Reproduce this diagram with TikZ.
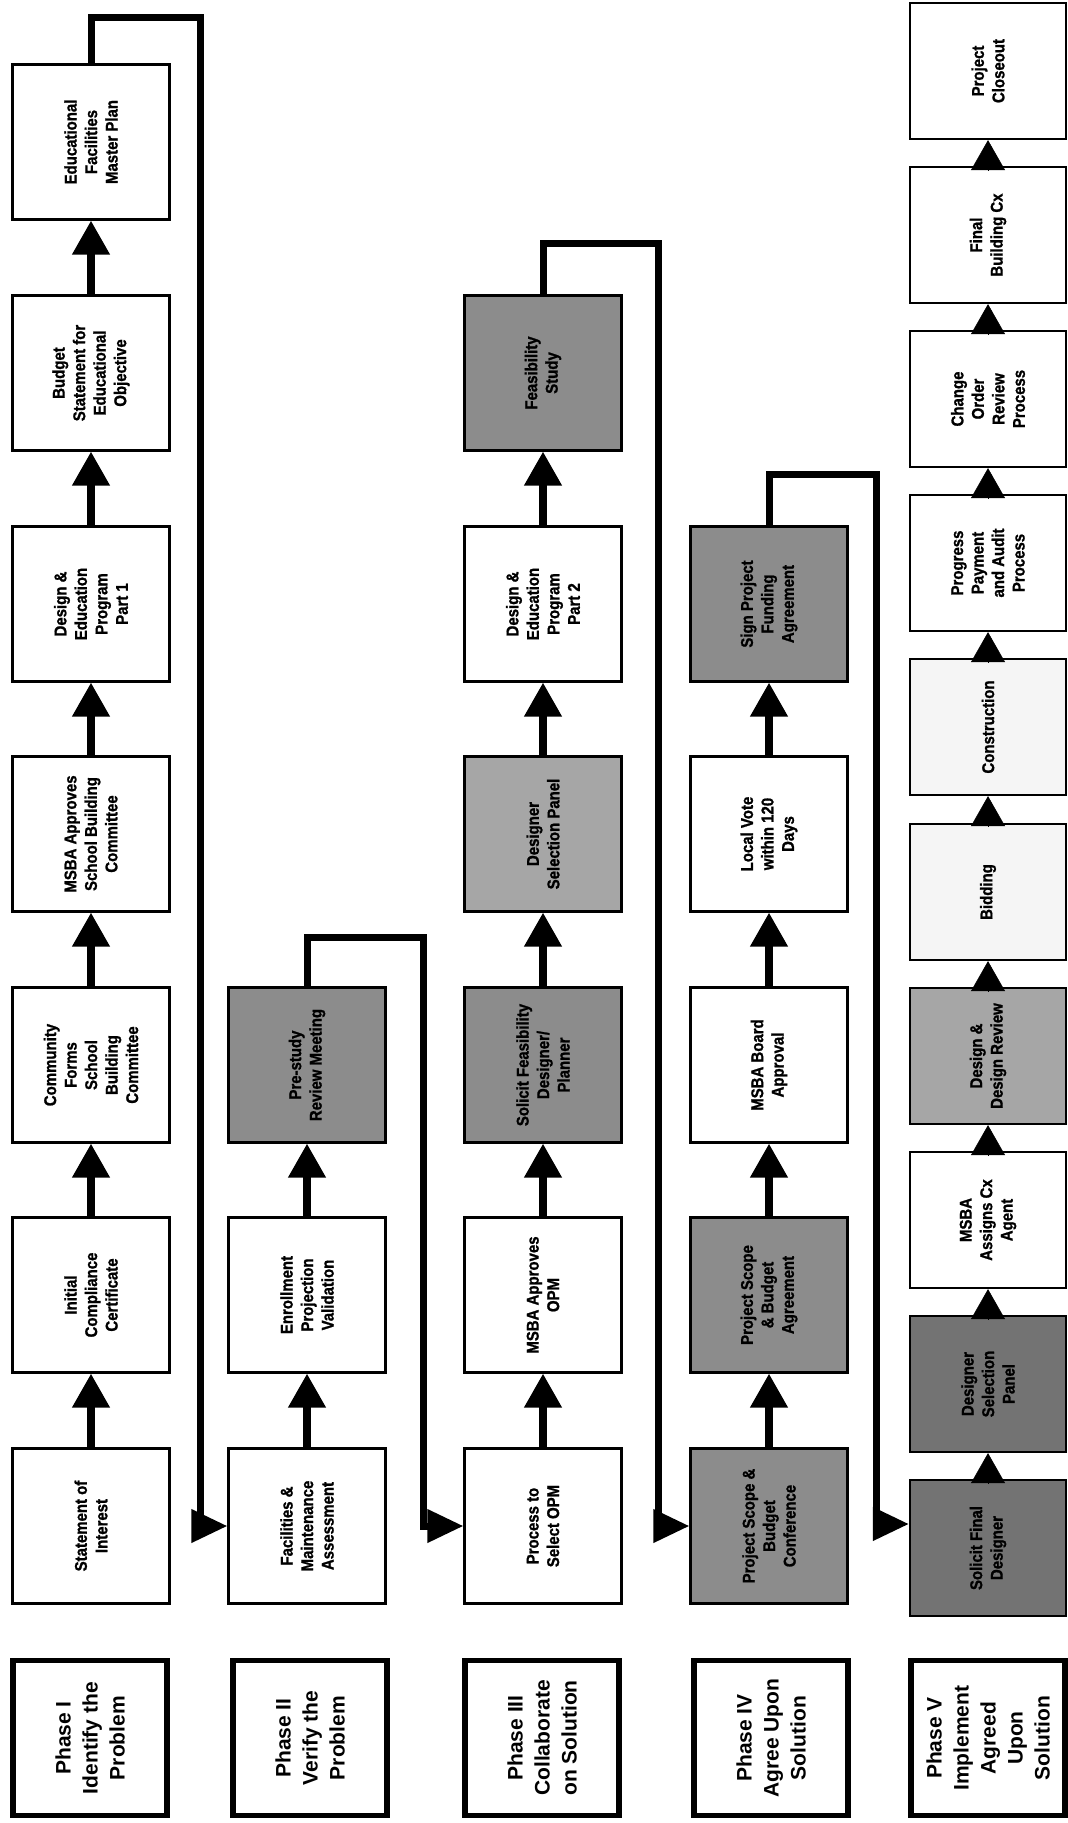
\documentclass[tikz,border=0pt]{standalone}
\usepackage{fontspec}
\setmainfont{Liberation Sans}
\newfontfamily\boxfont[FakeStretch=0.88,FakeBold=1.2]{Liberation Sans Bold}
\usetikzlibrary{arrows.meta}

\begin{document}
\begin{tikzpicture}[x=1pt,y=-1pt,
    box/.style={draw,line width=2.2pt,rotate=90,minimum width=155pt,minimum height=157pt,inner sep=0pt,align=center,fill=white,font=\boxfont\fontsize{17}{20.5}\selectfont},
    vbox/.style={box,minimum width=136pt,minimum height=156pt},
    dark/.style={fill=black!45},
    darker/.style={fill=black!55},
    mid/.style={fill=black!35},
    faint/.style={fill=black!4},
    phase/.style={draw,line width=5.5pt,rotate=90,minimum width=155pt,minimum height=154pt,inner sep=0pt,align=center,font=\bfseries\fontsize{21}{27}\selectfont},
    up/.style={line width=7.5pt,-{Triangle[length=34pt,width=36pt]}},
    tip/.style={line width=0.5pt,-{Triangle[length=30pt,width=34pt]}},
    link/.style={line width=7pt,-{Triangle[length=36pt,width=32pt]}}]
\useasboundingbox (0,0) rectangle (1068,1823);

% boxes are turned a quarter: east is up, north is left
% Phase I
\node[box] (soi) at (91,1526) {Statement of\\Interest};
\node[box] (icc) at (91,1295) {Initial\\Compliance\\Certificate};
\node[box] (cfsbc) at (91,1065) {Community\\Forms\\School\\Building\\Committee};
\node[box] (masbc) at (91,834) {MSBA Approves\\School Building\\Committee};
\node[box] (dep1) at (91,604) {Design \&\\Education\\Program\\Part 1};
\node[box] (bseo) at (91,373) {Budget\\Statement for\\Educational\\Objective};
\node[box] (efmp) at (91,142) {Educational\\Facilities\\Master Plan};

% Phase II
\node[box] (fma) at (307,1526) {Facilities \&\\Maintenance\\Assessment};
\node[box] (epv) at (307,1295) {Enrollment\\Projection\\Validation};
\node[box,dark] (psrm) at (307,1065) {Pre-study\\Review Meeting};

% Phase III
\node[box] (pso) at (543,1526) {Process to\\Select OPM};
\node[box] (mao) at (543,1295) {MSBA Approves\\OPM};
\node[box,dark] (sfdp) at (543,1065) {Solicit Feasibility\\Designer/\\Planner};
\node[box,mid] (dsp) at (543,834) {Designer\\Selection Panel};
\node[box] (dep2) at (543,604) {Design \&\\Education\\Program\\Part 2};
\node[box,dark] (fs) at (543,373) {Feasibility\\Study};

% Phase IV
\node[box,dark] (psbc) at (769,1526) {Project Scope \&\\Budget\\Conference};
\node[box,dark] (psba) at (769,1295) {Project Scope\\\& Budget\\Agreement};
\node[box] (mba) at (769,1065) {MSBA Board\\Approval};
\node[box] (lv) at (769,834) {Local Vote\\within 120\\Days};
\node[box,dark] (spfa) at (769,604) {Sign Project\\Funding\\Agreement};

% Phase V
\node[vbox,darker] (sfd) at (988,1548) {Solicit Final\\Designer};
\node[vbox,darker] (dsp5) at (988,1384) {Designer\\Selection\\Panel};
\node[vbox] (macx) at (988,1220) {MSBA\\Assigns Cx\\Agent};
\node[vbox,mid] (ddr) at (988,1056) {Design \&\\Design Review};
\node[vbox,faint] (bid) at (988,892) {Bidding};
\node[vbox,faint] (con) at (988,727) {Construction};
\node[vbox] (ppap) at (988,563) {Progress\\Payment\\and Audit\\Process};
\node[vbox] (corp) at (988,399) {Change\\Order\\Review\\Process};
\node[vbox] (fbcx) at (988,235) {Final\\Building Cx};
\node[vbox] (pc) at (988,71) {Project\\Closeout};

% phase titles
\node[phase] (ph1) at (90,1738) {Phase I\\Identify the\\Problem};
\node[phase] (ph2) at (310,1738) {Phase II\\Verify the\\Problem};
\node[phase] (ph3) at (542,1738) {Phase III\\Collaborate\\on Solution};
\node[phase] (ph4) at (771,1738) {Phase IV\\Agree Upon\\Solution};
\node[phase] (ph5) at (988,1738) {Phase V\\Implement\\Agreed\\Upon\\Solution};

\foreach \a/\b in {soi/icc,icc/cfsbc,cfsbc/masbc,masbc/dep1,dep1/bseo,bseo/efmp,
                   fma/epv,epv/psrm,
                   pso/mao,mao/sfdp,sfdp/dsp,dsp/dep2,dep2/fs,
                   psbc/psba,psba/mba,mba/lv,lv/spfa} {
    \draw[up] (\a.east) -- (\b.west);
}
\foreach \a/\b in {sfd/dsp5,dsp5/macx,macx/ddr,ddr/bid,bid/con,con/ppap,ppap/corp,corp/fbcx,fbcx/pc} {
    \draw[tip] ([yshift=-4pt]\a.east) -- (\b.west);
}

\coordinate (k1) at (200,17);
\coordinate (k2) at (423,937);
\coordinate (k3) at (658,243);
\coordinate (k4) at (876,474);
\draw[link] (efmp.east) |- (k1) |- (fma.north);
\draw[link] (psrm.east) |- (k2) |- (pso.north);
\draw[link] (fs.east) |- (k3) |- (psbc.north);
\draw[link] (spfa.east) |- (k4) |- ([yshift=24pt]sfd.north);

\end{tikzpicture}
\end{document}
